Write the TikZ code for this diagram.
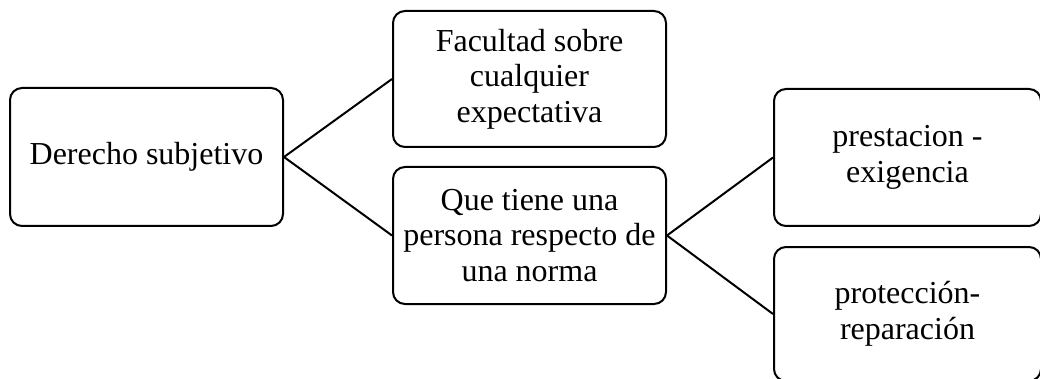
\documentclass[tikz,border=0pt]{standalone}
\usepackage{fontspec}
\setmainfont{Liberation Serif}
\begin{document}
\begin{tikzpicture}[x=1pt,y=-1pt,
  box/.style={draw=black, line width=2pt, rounded corners=12pt, fill=white,
    inner sep=0pt, align=center, font=\fontsize{32}{35.5}\selectfont},
  conn/.style={draw=black, line width=2pt}]
\useasboundingbox (0,0) rectangle (1040,379);
\node[box, minimum width=273pt, minimum height=138pt] (a) at (146.5,157) {Derecho subjetivo};
\node[box, minimum width=273pt, minimum height=136pt] (b) at (529.5,79) {Facultad sobre\\cualquier\\expectativa};
\node[box, minimum width=273pt, minimum height=137pt] (c) at (529.5,235.5) {Que tiene una\\persona respecto de\\una norma};
\node[box, minimum width=267pt, minimum height=137pt] (d) at (907.5,157.5) {prestacion -\\exigencia};
\node[box, minimum width=267pt, minimum height=134pt] (e) at (907.5,314) {protección-\\reparación};
\draw[conn] (a.east) -- (b.west);
\draw[conn] (a.east) -- (c.west);
\draw[conn] (c.east) -- (d.west);
\draw[conn] (c.east) -- (e.west);
\end{tikzpicture}
\end{document}
